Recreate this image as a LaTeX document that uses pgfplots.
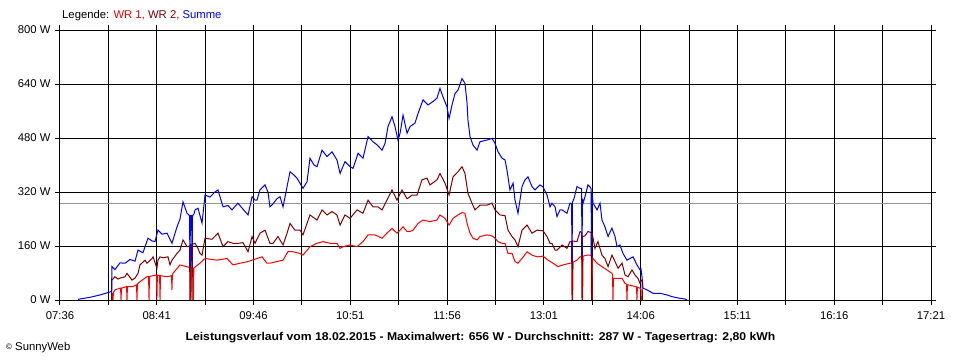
\documentclass[border=0pt]{standalone}
\usepackage{pgfplots}
\pgfplotsset{compat=1.18}
\usepackage{fontspec}
\setmainfont{Liberation Sans}
\definecolor{wrone}{RGB}{255,0,0}
\definecolor{wrtwo}{RGB}{128,0,0}
\definecolor{summe}{RGB}{0,0,255}
\definecolor{avgline}{RGB}{150,150,150}
\begin{document}
\begin{tikzpicture}
\path[use as bounding box] (-60pt,-60pt) rectangle (900pt,300pt);
\begin{axis}[
  at={(0pt,0pt)}, anchor=south west,
  scale only axis, width=871pt, height=270pt,
  xmin=456, xmax=1041, ymin=0, ymax=800,
  xtick={456,488.5,521,553.5,586,618.5,651,683.5,716,748.5,781,813.5,846,878.5,911,943.5,976,1008.5,1041},
  xticklabels={07:36,,08:41,,09:46,,10:51,,11:56,,13:01,,14:06,,15:11,,16:16,,17:21},
  ytick={0,160,320,480,640,800},
  yticklabels={0 W,160 W,320 W,480 W,640 W,800 W},
  tick align=outside, major tick length=5pt,
  tick style={black,line width=1pt},
  grid=major, major grid style={black,line width=1pt},
  axis line style={black,line width=1pt},
  ticklabel style={font=\fontsize{11.3}{13}\selectfont},
  xticklabel style={yshift=-3.5pt},
  yticklabel style={xshift=-1pt},
]
\addplot[avgline, line width=1pt] coordinates {(456,287) (1041,287)};
% WR 1
\addplot[wrone, line width=1pt] coordinates {
(490.6,0) (490.9,20) (491.3,20) (491.6,0) (491.9,22) (492.9,30) (496.3,35) (496.7,35) (497.0,0) (497.3,35) (500.7,40) (501.0,0) (501.3,40) (505.0,40) (507.4,45) (507.7,0) (508.0,48) (509.7,54) (514.4,69) (515.5,69) (515.8,0) (516.1,70) (520.8,74) (521.1,0) (521.4,74) (522.9,72) (523.2,0) (523.5,72) (527.9,69) (530.9,72) (531.2,30) (531.5,75) (531.9,79) (536.6,104) (540.0,100) (543.5,96) (543.8,0) (544.1,94) (545.3,94) (545.6,0) (545.9,95) (550.0,109) (553.4,123) (561.4,118) (568.2,123) (572.2,104) (576.9,109) (582.3,114) (588.3,123) (591.7,128) (595.0,109) (597.0,109) (601.7,114) (605.8,118) (609.1,143) (612.5,143) (617.2,138) (619.2,133) (623.9,158) (628.6,168) (632.6,173) (637.3,168) (642.0,168) (644.1,153) (646.1,158) (650.8,163) (655.5,158) (659.5,173) (662.9,193) (667.6,193) (672.3,183) (675.6,198) (679.0,212) (682.3,198) (684.4,207) (686.4,217) (689.1,203) (691.1,203) (693.1,207) (696.5,227) (699.8,237) (704.5,232) (709.2,237) (711.2,252) (714.6,242) (717.3,222) (720.0,242) (723.3,252) (726.0,259) (728.0,257) (729.4,227) (731.4,198) (733.4,183) (736.1,178) (738.1,188) (742.8,193) (746.1,190) (748.2,183) (750.2,173) (752.9,168) (754.9,168) (756.9,138) (759.6,138) (761.6,114) (763.6,109) (766.3,123) (769.7,143) (773.0,133) (776.4,128) (780.4,130) (783.8,118) (787.1,109) (790.5,99) (793.8,104) (798.5,109) (800.0,110) (800.3,0) (800.6,112) (803.2,118) (805.3,128) (806.7,129) (807.0,0) (807.3,130) (810.0,133) (812.0,133) (813.0,130) (813.3,0) (813.6,125) (816.7,109) (820.0,99) (823.4,89) (826.7,79) (827.1,75) (827.4,0) (827.7,64) (830.1,64) (833.5,64) (835.5,49) (836.5,47) (836.8,0) (837.1,45) (838.8,44) (842.2,40) (843.2,39) (843.5,0) (843.8,38) (845.6,35) (846.2,30) (846.5,0)
};
% WR 2
\addplot[wrtwo, line width=1pt] coordinates {
(490.6,0) (490.9,59) (492.9,69) (495.0,62) (496.3,65) (499.7,69) (501.0,79) (504.4,59) (506.4,65) (508.4,79) (509.7,104) (513.1,118) (514.4,109) (517.8,123) (518.5,128) (521.1,94) (521.8,118) (523.2,128) (525.2,125) (528.5,128) (529.9,104) (531.2,118) (534.6,138) (536.6,148) (538.6,178) (540.0,168) (541.3,158) (543.0,160) (543.3,0) (543.6,162) (544.0,165) (544.4,163) (544.7,0) (545.0,165) (546.7,168) (548.7,153) (550.0,138) (551.4,133) (553.4,183) (558.1,180) (562.1,198) (565.5,158) (568.8,173) (572.2,168) (575.5,168) (578.9,170) (582.3,143) (585.0,188) (587.0,168) (590.3,198) (593.7,207) (597.0,168) (599.1,168) (602.4,188) (605.8,163) (608.5,198) (610.5,227) (613.8,207) (617.2,207) (619.2,193) (623.9,252) (628.6,237) (632.0,267) (635.3,252) (638.7,262) (642.0,252) (644.1,222) (647.4,252) (650.8,242) (655.5,267) (659.5,257) (662.9,296) (666.2,276) (669.6,276) (672.3,267) (675.6,296) (679.0,326) (682.3,296) (685.7,326) (689.1,300) (691.1,306) (692.4,311) (695.8,311) (699.1,356) (702.5,361) (704.5,341) (709.2,356) (711.2,375) (714.6,346) (717.3,311) (720.0,365) (723.3,380) (726.0,395) (728.0,375) (730.0,316) (732.7,287) (734.7,267) (738.1,281) (742.8,281) (746.1,287) (748.2,267) (751.5,252) (754.9,250) (756.9,207) (759.6,188) (761.6,178) (763.6,158) (766.3,207) (769.7,222) (773.0,198) (776.4,207) (780.4,205) (783.1,188) (785.1,168) (786.4,168) (788.5,148) (789.8,148) (793.2,163) (796.5,153) (798.5,173) (799.6,173) (799.9,0) (800.2,175) (803.2,173) (805.3,203) (806.3,200) (806.6,0) (806.9,188) (808.6,190) (810.6,203) (812.7,200) (813.0,0) (813.3,200) (815.3,153) (817.3,173) (820.0,133) (822.0,123) (824.1,99) (826.7,133) (828.8,114) (830.8,94) (833.5,109) (835.5,74) (837.5,69) (840.2,89) (842.2,74) (844.2,64) (845.6,49) (846.2,59) (846.9,59) (847.2,0)
};
% Summe
\addplot[summe, line width=1pt] coordinates {
(468.1,2) (476.1,8) (482.9,15) (488.2,22) (490.3,25) (490.6,25) (490.9,99) (492.9,90) (496.3,110) (499.7,109) (503.0,120) (506.4,115) (508.4,148) (511.7,140) (515.1,183) (517.8,175) (519.8,173) (521.8,207) (524.5,195) (527.9,198) (531.2,168) (534.6,217) (536.6,240) (538.6,291) (541.3,257) (543.0,250) (543.3,99) (543.6,250) (544.4,250) (544.7,95) (545.0,250) (546.0,255) (546.7,267) (548.7,272) (551.4,228) (553.4,311) (556.7,305) (560.1,320) (562.1,326) (565.5,276) (568.8,280) (571.5,267) (575.5,287) (580.3,262) (582.3,252) (585.0,306) (587.0,296) (588.3,296) (590.3,326) (593.7,341) (595.7,320) (597.0,276) (599.1,285) (601.7,300) (603.8,306) (605.8,276) (608.5,336) (610.5,380) (613.2,370) (615.2,361) (619.2,331) (621.9,350) (623.9,420) (626.6,400) (628.6,395) (632.0,444) (635.3,425) (638.7,439) (642.0,415) (644.1,375) (647.4,410) (650.8,395) (652.8,390) (656.2,435) (659.5,420) (662.9,484) (666.2,469) (668.9,460) (672.3,444) (674.3,464) (676.3,514) (679.0,543) (681.0,514) (683.0,474) (684.4,494) (686.4,548) (689.1,494) (691.1,514) (694.4,524) (696.5,553) (699.8,593) (703.2,578) (706.5,588) (709.2,598) (711.2,627) (713.2,602) (715.9,573) (717.3,538) (719.3,578) (721.3,612) (723.3,622) (726.0,656) (728.0,642) (729.4,583) (730.0,533) (731.4,484) (733.4,459) (736.1,444) (738.1,469) (742.8,474) (746.1,479) (748.2,464) (750.2,439) (752.9,420) (754.9,415) (756.2,385) (758.2,326) (760.3,346) (761.6,296) (763.6,257) (766.3,336) (768.3,356) (770.3,365) (773.0,336) (775.0,326) (778.4,341) (780.4,335) (783.1,311) (785.1,276) (786.4,287) (788.5,276) (789.8,247) (791.8,267) (793.2,267) (796.5,257) (798.5,287) (799.6,285) (799.9,110) (800.2,290) (801.2,300) (803.2,336) (805.3,331) (806.3,330) (806.6,128) (806.9,300) (807.3,287) (808.6,306) (810.6,341) (812.0,335) (812.7,330) (813.0,125) (813.3,320) (814.0,287) (816.7,267) (818.7,287) (820.0,237) (822.0,217) (824.1,188) (826.7,213) (828.8,188) (830.1,158) (832.1,163) (834.1,138) (836.8,118) (838.8,123) (840.9,128) (843.5,104) (845.6,89) (846.2,92) (846.9,69) (847.6,35) (850.3,30) (854.3,20) (859.0,20) (863.7,15) (867.0,10) (872.4,5) (875.8,3) (877.1,0)
};
\end{axis}
\node[anchor=west, font=\fontsize{11.3}{13}\selectfont, inner sep=0pt] at (2pt,284pt) {Legende: \textcolor{wrone}{WR 1,} \textcolor{wrtwo}{WR 2,} \textcolor{summe}{Summe}};
\node[font=\fontsize{11.3}{13}\selectfont\bfseries, inner sep=0pt] at (420.5pt,-37.5pt) {\scalebox{1.08}[1]{Leistungsverlauf vom 18.02.2015 - Maximalwert: 656 W - Durchschnitt: 287 W - Tagesertrag: 2,80 kWh}};
\node[anchor=west, font=\fontsize{11.3}{13}\selectfont, inner sep=0pt] at (-54pt,-48pt) {\raisebox{1pt}{\fontsize{8}{8}\selectfont ©} SunnyWeb};
\end{tikzpicture}
\end{document}
